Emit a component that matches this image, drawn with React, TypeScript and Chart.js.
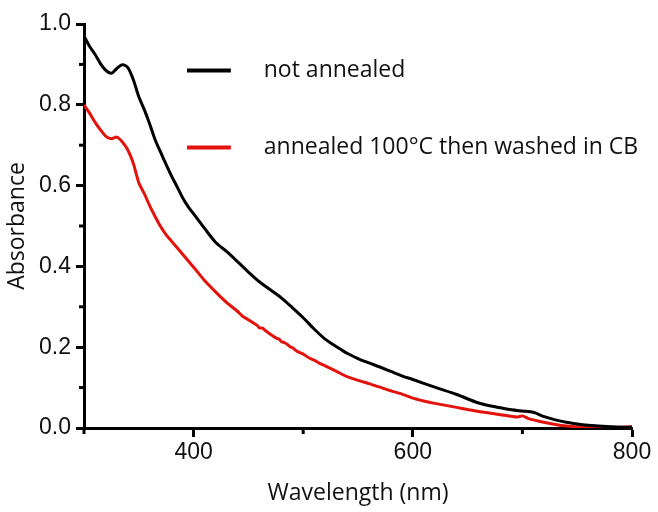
import React, { useEffect, useRef } from "react";
import { Chart, registerables } from "chart.js";

Chart.register(...registerables);

const seriesLabels = ["not annealed", "annealed 100°C then washed in CB"];
const seriesColors = ["#000000", "#e3120b"];

const notAnnealedX = [300, 305, 310, 315, 320, 325, 330, 335, 340, 345, 350, 355, 360, 365, 370, 375, 380, 385, 390, 395, 400, 410, 420, 430, 440, 450, 460, 470, 480, 490, 500, 510, 520, 530, 540, 550, 560, 570, 580, 590, 600, 620, 640, 660, 680, 690, 700, 710, 720, 730, 740, 750, 760, 770, 780, 790, 800];
const notAnnealedY = [0.970, 0.945, 0.925, 0.902, 0.885, 0.878, 0.890, 0.899, 0.892, 0.862, 0.820, 0.788, 0.752, 0.713, 0.682, 0.652, 0.623, 0.597, 0.570, 0.548, 0.530, 0.494, 0.460, 0.437, 0.412, 0.386, 0.362, 0.342, 0.322, 0.298, 0.273, 0.245, 0.220, 0.202, 0.185, 0.172, 0.161, 0.151, 0.140, 0.129, 0.120, 0.101, 0.083, 0.062, 0.050, 0.045, 0.042, 0.039, 0.028, 0.020, 0.014, 0.010, 0.007, 0.005, 0.003, 0.002, 0.002];

const annealedX = [300, 305, 310, 315, 320, 325, 330, 335, 340, 345, 350, 355, 360, 365, 370, 375, 380, 390, 400, 410, 420, 430, 440, 445, 450, 455, 458, 460, 463, 466, 470, 475, 478, 480, 483, 486, 488, 490, 495, 500, 505, 510, 515, 520, 530, 540, 550, 560, 570, 580, 590, 600, 610, 620, 630, 640, 650, 660, 680, 695, 700, 705, 710, 716, 725, 734, 745, 760, 780, 800];
const annealedY = [0.800, 0.780, 0.757, 0.738, 0.722, 0.716, 0.720, 0.708, 0.688, 0.655, 0.607, 0.580, 0.550, 0.523, 0.498, 0.478, 0.462, 0.430, 0.398, 0.365, 0.337, 0.311, 0.289, 0.276, 0.268, 0.259, 0.254, 0.248, 0.247, 0.240, 0.232, 0.223, 0.220, 0.214, 0.211, 0.206, 0.201, 0.199, 0.189, 0.183, 0.174, 0.168, 0.160, 0.154, 0.141, 0.127, 0.118, 0.110, 0.101, 0.092, 0.084, 0.074, 0.067, 0.061, 0.056, 0.051, 0.046, 0.041, 0.033, 0.027, 0.030, 0.024, 0.020, 0.016, 0.011, 0.007, 0.004, 0.003, 0.002, 0.003];

const xMajorLabels = [400, 600, 800];
const yMajorLabels = [0, 0.2, 0.4, 0.6, 0.8, 1.0];

const xTitle = "Wavelength (nm)";
const yTitle = "Absorbance";

const isMajor = (v: number, list: number[]) => list.some((m) => Math.abs(m - v) < 1e-6);

const minorTicksPlugin = {
  id: "minorTicks",
  afterDraw(chart: any) {
    const ctx = chart.ctx;
    const area = chart.chartArea;
    const xs = chart.scales.x;
    const ys = chart.scales.y;
    ctx.save();
    ctx.strokeStyle = "#000";
    ctx.lineWidth = 3;
    xs.ticks.forEach((t: any) => {
      if (isMajor(t.value, xMajorLabels)) return;
      const px = xs.getPixelForValue(t.value);
      ctx.beginPath();
      ctx.moveTo(px, area.bottom);
      ctx.lineTo(px, area.bottom + 6);
      ctx.stroke();
    });
    ys.ticks.forEach((t: any) => {
      if (isMajor(t.value, yMajorLabels)) return;
      const py = ys.getPixelForValue(t.value);
      ctx.beginPath();
      ctx.moveTo(area.left, py);
      ctx.lineTo(area.left - 5, py);
      ctx.stroke();
    });
    ctx.restore();
  },
};

const legendPlugin = {
  id: "inlineLegend",
  afterDraw(chart: any) {
    const ctx = chart.ctx;
    const xs = chart.scales.x;
    const ys = chart.scales.y;
    const rows = [0.885, 0.694];
    ctx.save();
    chart.data.datasets.forEach((ds: any, i: number) => {
      const y = ys.getPixelForValue(rows[i]);
      const x0 = xs.getPixelForValue(394);
      const x1 = xs.getPixelForValue(434);
      ctx.strokeStyle = ds.borderColor;
      ctx.lineWidth = 4;
      ctx.beginPath();
      ctx.moveTo(x0, y);
      ctx.lineTo(x1, y);
      ctx.stroke();
      ctx.fillStyle = "#111";
      ctx.font = "23px 'Open Sans'";
      ctx.textBaseline = "middle";
      ctx.textAlign = "left";
      ctx.fillText(ds.label, xs.getPixelForValue(464), y);
    });
    ctx.restore();
  },
};

export default function App() {
  const ref = useRef<HTMLCanvasElement | null>(null);
  useEffect(() => {
    if (!ref.current) return;
    const chart = new Chart(ref.current, {
      type: "line",
      data: {
        datasets: [
          {
            label: seriesLabels[0],
            data: notAnnealedX.map((x, i) => ({ x, y: notAnnealedY[i] })),
            borderColor: seriesColors[0],
            borderWidth: 3,
            pointRadius: 0,
            tension: 0.3,
            fill: false,
          },
          {
            label: seriesLabels[1],
            data: annealedX.map((x, i) => ({ x, y: annealedY[i] })),
            borderColor: seriesColors[1],
            borderWidth: 3,
            pointRadius: 0,
            tension: 0.2,
            fill: false,
          },
        ],
      },
      options: {
        animation: false,
        responsive: false,
        layout: { padding: { top: 24, right: 26, left: 0, bottom: 0 } },
        plugins: { legend: { display: false }, tooltip: { enabled: false } },
        scales: {
          x: {
            type: "linear",
            min: 300,
            max: 800,
            afterFit: (s: any) => {
              s.height = 84;
            },
            border: { display: true, color: "#000", width: 3 },
            grid: {
              drawOnChartArea: false,
              drawTicks: true,
              tickLength: 9,
              tickWidth: 3,
              tickColor: (c: any) => (isMajor(c.tick?.value, xMajorLabels) ? "#000" : "rgba(0,0,0,0)"),
            },
            ticks: {
              stepSize: 100,
              autoSkip: false,
              maxRotation: 0,
              padding: 2,
              color: "#111",
              font: { family: "'Liberation Sans'", size: 23 },
              callback: (v: any) => (isMajor(Number(v), xMajorLabels) ? String(v) : ""),
            },
            title: {
              display: true,
              text: xTitle,
              color: "#111",
              font: { family: "'Open Sans'", size: 23 },
              padding: { top: 0, bottom: 5 },
            },
          },
          y: {
            type: "linear",
            min: 0,
            max: 1,
            afterFit: (s: any) => {
              s.width = 84;
            },
            border: { display: true, color: "#000", width: 3 },
            grid: {
              drawOnChartArea: false,
              drawTicks: true,
              tickLength: 8,
              tickWidth: 3,
              tickColor: (c: any) => (isMajor(c.tick?.value, yMajorLabels) ? "#000" : "rgba(0,0,0,0)"),
            },
            ticks: {
              stepSize: 0.1,
              autoSkip: false,
              padding: 5,
              color: "#111",
              font: { family: "'Liberation Sans'", size: 23 },
              callback: (v: any) => (isMajor(Number(v), yMajorLabels) ? Number(v).toFixed(1) : ""),
            },
            title: {
              display: true,
              text: yTitle,
              color: "#111",
              font: { family: "'Open Sans'", size: 23 },
              padding: { top: 4, bottom: 0 },
            },
          },
        },
      },
      plugins: [minorTicksPlugin, legendPlugin],
    } as any);
    return () => chart.destroy();
  }, []);
  return (
    <div style={{ position: "fixed", left: 0, top: 0, width: 658, height: 512, background: "#fff" }}>
      <canvas ref={ref} width={658} height={512} style={{ display: "block" }} />
    </div>
  );
}
